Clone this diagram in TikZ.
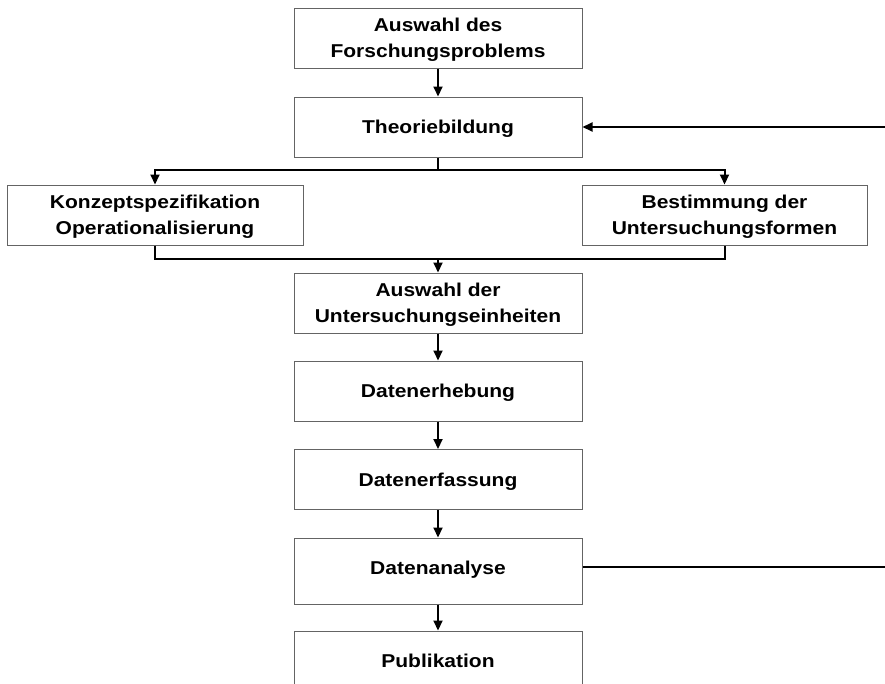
\documentclass[tikz,border=0pt]{standalone}
\usepackage{fontspec}
\setmainfont[FakeStretch=1.13]{Liberation Sans}
\usetikzlibrary{arrows.meta}
\definecolor{boxgray}{RGB}{100,100,100}

\begin{document}
\begin{tikzpicture}[x=1pt,y=-1pt,
  kasten/.style={draw=boxgray,line width=1pt,minimum width=288,minimum height=60,align=center,inner sep=2pt,
    text height=16.6pt,text depth=3.3pt,font=\fontsize{18.6}{25.5}\selectfont\bfseries},
  zweizeilig/.style={text height=42.1pt},
  linie/.style={line width=2pt},
  pfeil/.style={linie,-{Triangle[length=10pt,width=9pt]}}]
\useasboundingbox (0,0) rectangle (885,683);
\clip (0,0) rectangle (885,683);
\node[kasten,zweizeilig] (ausw) at (438,38) {Auswahl des\\Forschungsproblems};
\node[kasten] (theo) at (438,127) {Theoriebildung};
\node[kasten,zweizeilig,minimum width=296] (konz) at (155,215) {Konzeptspezifikation\\Operationalisierung};
\node[kasten,zweizeilig,minimum width=285] (best) at (724.5,215) {Bestimmung der\\Untersuchungsformen};
\node[kasten,zweizeilig] (einh) at (438,303) {Auswahl der\\Untersuchungseinheiten};
\node[kasten] (erheb) at (438,391) {Datenerhebung};
\node[kasten] (erfass) at (438,479.5) {Datenerfassung};
\node[kasten,minimum height=66,text depth=9.3pt] (analyse) at (438,571) {Datenanalyse};
\node[kasten] (publ) at (438,661) {Publikation};
\coordinate (split) at (438,170);
\coordinate (merge) at (438,259);
\coordinate (rand) at (888,0);
\foreach \a/\b in {ausw/theo,einh/erheb,erheb/erfass,erfass/analyse,analyse/publ}
  \draw[pfeil] (\a) -- (\b);
\draw[linie] (theo) -- (split);
\draw[pfeil] (split) -| (konz.north);
\draw[pfeil] (split) -| (best.north);
\draw[linie] (konz.south) |- (merge) -| (best.south);
\draw[pfeil] (merge) -- (einh);
\draw[pfeil] ([yshift=4pt]analyse.east) -- ([yshift=4pt]analyse.east -| rand) |- (theo.east);
\end{tikzpicture}
\end{document}
